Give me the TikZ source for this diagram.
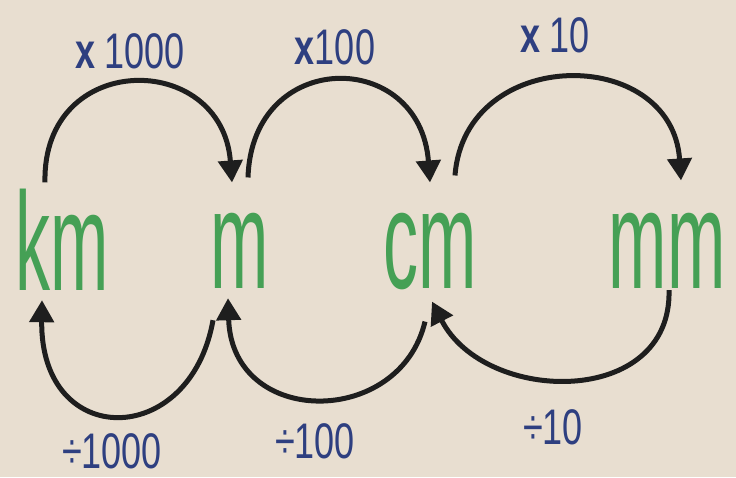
\documentclass[tikz,border=0pt]{standalone}
\usepackage{fontspec}
\usetikzlibrary{arrows.meta}
\newfontfamily\unitfont[FakeStretch=0.5]{Liberation Sans}
\newfontfamily\labfont[FakeStretch=0.72]{Liberation Sans}
\definecolor{paper}{HTML}{E8DED0}
\definecolor{unitgreen}{HTML}{45A055}
\definecolor{labblue}{HTML}{2E3F80}
\definecolor{ink}{HTML}{1E1E1E}
\begin{document}
\begin{tikzpicture}[x=1pt,y=-1pt,
  unit/.style={text=unitgreen, font=\unitfont\fontsize{140}{140}\selectfont, inner sep=0pt, anchor=base},
  lab/.style={text=labblue, font=\labfont\fontsize{50}{50}\selectfont, inner sep=0pt, anchor=base},
  jump/.style={draw=ink, line width=5pt, -{Triangle[length=22pt,width=24pt]}}]
\fill[paper] (0,0) rectangle (736,477);
\useasboundingbox (0,0) rectangle (736,477);
% units
\node[unit] (km) at (62,290) {km};
\node[unit] (m) at (240,288) {m};
\node[unit] (cm) at (430,288) {cm};
\node[unit] (mm) at (667,288) {mm};
% labels
\node[lab] (l1) at (130,68) {\textbf{x}\,1000};
\node[lab] (l2) at (335,64) {\textbf{x}100};
\node[lab] (l3) at (555,52) {\textbf{x}\,10};
\node[lab] (d1) at (112,468) {÷1000};
\node[lab] (d2) at (315,458) {÷100};
\node[lab] (d3) at (553,444) {÷10};
% anchor points on the units
\coordinate (kmT) at ([xshift=-17pt,yshift=6pt]km.north);
\coordinate (mTL) at ([xshift=-8pt,yshift=30pt]m.north);
\coordinate (mTR) at ([xshift=8pt,yshift=35pt]m.north);
\coordinate (cmTL) at ([xshift=0pt,yshift=30pt]cm.north);
\coordinate (cmTR) at ([xshift=25pt,yshift=37pt]cm.north);
\coordinate (mmT) at ([xshift=14pt,yshift=32pt]mm.north);
\coordinate (kmB) at ([xshift=-20pt,yshift=-10pt]km.south);
\coordinate (mBL) at ([xshift=-27pt,yshift=-32pt]m.south);
\coordinate (mB) at ([xshift=-12pt,yshift=-10pt]m.south);
\coordinate (cmBL) at ([xshift=-5pt,yshift=-32pt]cm.south);
\coordinate (cmB) at ([xshift=2pt,yshift=-12pt]cm.south);
\coordinate (mmB) at ([xshift=2pt,yshift=-2pt]mm.south);
% top arrows
\draw[jump] (kmT) .. controls (42,50) and (222,50) .. (mTL);
\draw[jump] (mTR) .. controls (252,48) and (420,48) .. (cmTL);
\draw[jump] (cmTR) .. controls (465,45) and (672,45) .. (mmT);
% bottom arrows
\draw[jump] (mBL) .. controls (190,450) and (40,450) .. (kmB);
\draw[jump] (cmBL) .. controls (400,428) and (232,428) .. (mB);
\draw[jump] (mmB) .. controls (672,408) and (485,405) .. (cmB);
\end{tikzpicture}
\end{document}
